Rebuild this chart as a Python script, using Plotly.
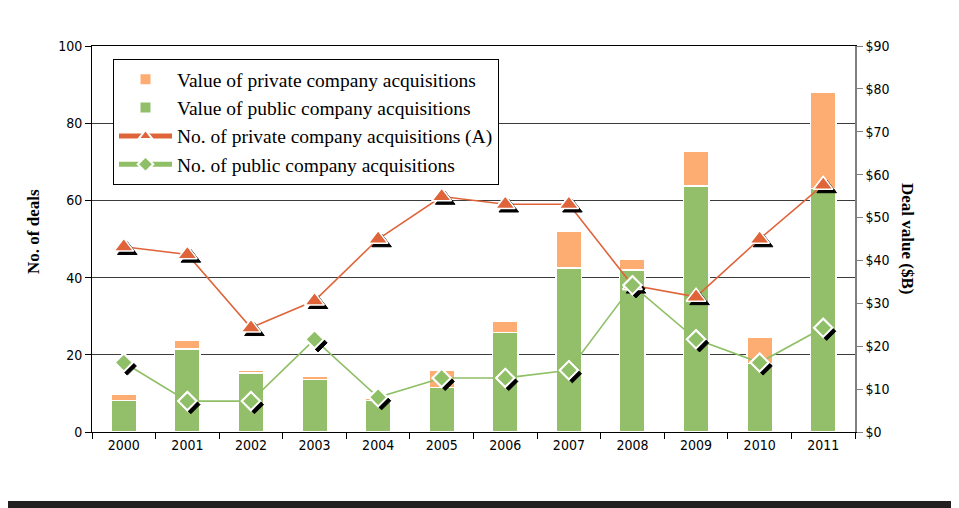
import plotly.graph_objects as go

years = ["2000", "2001", "2002", "2003", "2004", "2005", "2006", "2007", "2008", "2009", "2010", "2011"]
public_value = [7.3, 19.3, 13.7, 12.3, 7.4, 10.4, 23.2, 38.2, 37.8, 57.4, 16.0, 56.8]
private_value = [1.5, 2.0, 0.8, 0.7, 0.5, 4.1, 2.7, 8.5, 2.5, 8.0, 6.1, 22.5]
private_count = [48, 46, 27, 34, 50, 61, 59, 59, 38, 35, 50, 64]
public_count = [18, 8, 8, 24, 9, 14, 14, 16, 38, 24, 18, 27]

OFF = 8  # page body margin
W, H = 959 - OFF, 508 - OFF
# plot area in page pixels: x 92..855, y 46..432
L, R, T, B = 92 - OFF, W - (855 - OFF), 46 - OFF, H - (432 - OFF)
PW, PH = W - L - R, H - T - B


def px_x(p):
    return (p - OFF - L) / PW


def px_y(p):
    return (H - B - (p - OFF)) / PH


ORANGE_BAR = "#FDAC72"
GREEN_BAR = "#93BE6A"
ORANGE_LINE = "#E0643A"
GREEN_LINE = "#8FBF66"
SERIF = "Liberation Serif, Times New Roman, serif"
SANS = "DejaVu Sans Condensed, Liberation Sans Narrow, sans-serif"

TRI = dict(symbol="triangle-up", size=17)
DIA = dict(symbol="diamond", size=14)

fig = go.Figure()

# bars on the dollar axis
fig.add_trace(go.Bar(
    x=years, y=public_value, name="Value of public company acquisitions",
    marker=dict(color=GREEN_BAR, line=dict(color="white", width=1.5)),
    xaxis="x", yaxis="y", legendrank=2,
))
fig.add_trace(go.Bar(
    x=years, y=private_value, name="Value of private company acquisitions",
    marker=dict(color=ORANGE_BAR, line=dict(color="white", width=1.5)),
    xaxis="x", yaxis="y", legendrank=1,
))

# count lines on the left (No. of deals) axis
fig.add_trace(go.Scatter(
    x=years, y=private_count, mode="lines+markers",
    name="No. of private company acquisitions (A)",
    line=dict(color=ORANGE_LINE, width=1.6),
    marker=dict(**TRI, color=ORANGE_LINE, line=dict(color="white", width=1.5)),
    xaxis="x", yaxis="y2", legendrank=3, cliponaxis=False,
))
fig.add_trace(go.Scatter(
    x=years, y=public_count, mode="lines+markers",
    name="No. of public company acquisitions",
    line=dict(color=GREEN_LINE, width=1.6),
    marker=dict(**DIA, color=GREEN_LINE, line=dict(color="white", width=2)),
    xaxis="x", yaxis="y2", legendrank=4, cliponaxis=False,
))

# marker shadows (separate subplot shifted a few pixels right/down)
fig.add_trace(go.Scatter(
    x=years, y=private_count, mode="markers", showlegend=False, hoverinfo="skip",
    marker=dict(**TRI, color="black", line=dict(color="black", width=1)),
    xaxis="x2", yaxis="y3", cliponaxis=False,
))
fig.add_trace(go.Scatter(
    x=years, y=public_count, mode="markers", showlegend=False, hoverinfo="skip",
    marker=dict(**DIA, color="black", line=dict(color="black", width=1)),
    xaxis="x2", yaxis="y3", cliponaxis=False,
))

# markers redrawn above their shadows
fig.add_trace(go.Scatter(
    x=years, y=private_count, mode="markers", showlegend=False, hoverinfo="skip",
    marker=dict(**TRI, color=ORANGE_LINE, line=dict(color="white", width=1.5)),
    xaxis="x3", yaxis="y4", cliponaxis=False,
))
fig.add_trace(go.Scatter(
    x=years, y=public_count, mode="markers", showlegend=False, hoverinfo="skip",
    marker=dict(**DIA, color=GREEN_LINE, line=dict(color="white", width=2)),
    xaxis="x3", yaxis="y4", cliponaxis=False,
))

SH = 3.5
ex = SH / PW
ey = SH / PH
xr1 = -0.5 + 12 * (PW - SH) / PW

shapes = [
    dict(type="rect", xref="paper", yref="paper", x0=px_x(-10), x1=px_x(970), y0=px_y(501), y1=px_y(520),
         fillcolor="#231F20", line=dict(width=0), layer="below"),
]

cat = dict(type="category", categoryorder="array", categoryarray=years)

fig.update_layout(
    width=W, height=H,
    margin=dict(l=L, r=R, t=T, b=B, autoexpand=False),
    paper_bgcolor="white", plot_bgcolor="rgba(0,0,0,0)",
    barmode="stack", bargap=0.6,
    showlegend=True,
    legend=dict(
        x=px_x(113), y=px_y(59), xanchor="left", yanchor="top",
        bgcolor="white", bordercolor="black", borderwidth=1,
        font=dict(family=SERIF, size=19.5, color="black"),
        traceorder="normal", itemsizing="constant", tracegroupgap=0, itemwidth=53,
    ),
    xaxis=dict(
        **cat, range=[-0.5, 11.5], showline=True, linecolor="black", linewidth=1, mirror=True,
        ticks="outside", ticklen=6, tickcolor="black", tickson="boundaries",
        tickfont=dict(family=SANS, size=14, color="black"), showgrid=False,
    ),
    yaxis=dict(
        range=[0, 90], dtick=10, tickprefix="$", side="right",
        showgrid=False, showline=True, linecolor="#7F7F7F", linewidth=1.5, ticks="outside",
        ticklen=6, tickcolor="#7F7F7F", tickfont=dict(family=SANS, size=14, color="black"),
        zeroline=False,
    ),
    yaxis2=dict(
        range=[0, 100], dtick=20, overlaying="y", side="left",
        showgrid=True, gridcolor="#3C3C3C", gridwidth=1,
        showline=True, linecolor="black", linewidth=1, ticks="outside", ticklen=6,
        tickcolor="black", tickfont=dict(family=SANS, size=14, color="black"), zeroline=False,
    ),
    xaxis2=dict(**cat, domain=[ex, 1], range=[-0.5, xr1], anchor="y3", visible=False),
    yaxis3=dict(domain=[0, 1 - ey], range=[100 * ey, 100], anchor="x2", visible=False),
    xaxis3=dict(**cat, domain=[0, 1], range=[-0.5, 11.5], anchor="y4", visible=False),
    yaxis4=dict(domain=[0, 1], range=[0, 100], anchor="x3", visible=False),
    shapes=shapes,
    annotations=[
        dict(text="<b>No. of deals</b>", xref="paper", yref="paper", x=px_x(33), y=px_y(231),
             xanchor="center", yanchor="middle",
             textangle=-90, showarrow=False, font=dict(family=SERIF, size=17, color="black")),
        dict(text="<b>Deal value ($B)</b>", xref="paper", yref="paper", x=px_x(908), y=px_y(238),
             xanchor="center", yanchor="middle",
             textangle=90, showarrow=False, font=dict(family=SERIF, size=17, color="black")),
    ],
)

fig.write_html("out.html")
